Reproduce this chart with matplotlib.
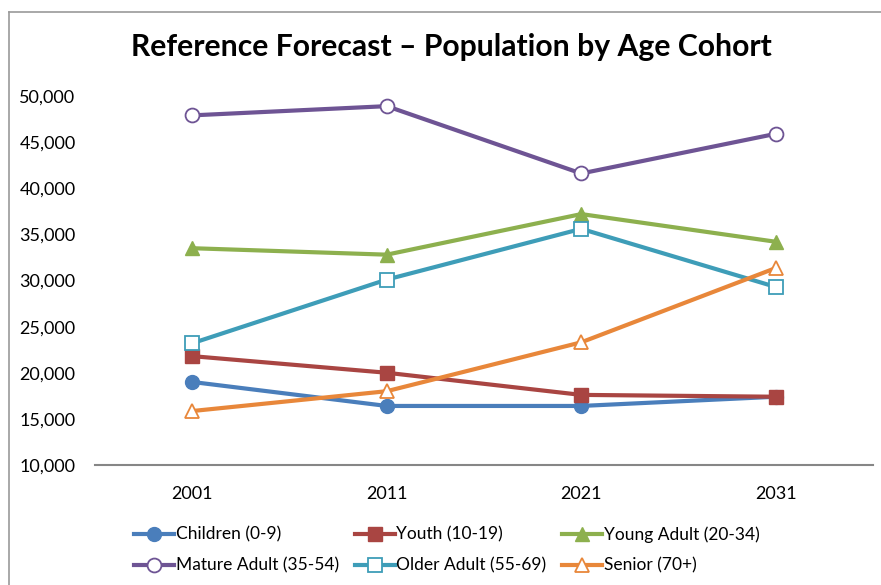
import matplotlib
matplotlib.use("Agg")
import matplotlib.pyplot as plt
from matplotlib.lines import Line2D

years = ["2001", "2011", "2021", "2031"]
children = [19000, 16400, 16400, 17400]
youth = [21800, 20000, 17600, 17400]
young_adult = [33500, 32800, 37200, 34200]
mature_adult = [47900, 48900, 41600, 45900]
older_adult = [23200, 30100, 35600, 29300]
senior = [15850, 18000, 23300, 31350]

series = [
    ("Children (0-9)", children, "#4A7EBB", "o", True),
    ("Youth (10-19)", youth, "#A94542", "s", True),
    ("Young Adult (20-34)", young_adult, "#8DB04E", "^", True),
    ("Mature Adult (35-54)", mature_adult, "#6E5494", "o", False),
    ("Older Adult (55-69)", older_adult, "#3E9DB8", "s", False),
    ("Senior (70+)", senior, "#E8873A", "^", False),
]

plt.rcParams['font.family'] = ['Lato', 'DejaVu Sans']

fig = plt.figure(figsize=(8.81, 5.85), dpi=100)
ax = fig.add_axes([95/881, 120/585, 778/881, 369/585])

x = list(range(len(years)))
handles = []
for name, vals, color, mk, filled in series:
    ms = 10 if mk != "s" else 9.5
    if mk == "^":
        ms = 10.5
    ln, = ax.plot(x, vals, color=color, lw=3, marker=mk, markersize=ms,
                  markerfacecolor=color if filled else "white",
                  markeredgecolor=color, markeredgewidth=1.3 if not filled else 1,
                  label=name, zorder=3)
    handles.append(ln)

ax.set_xlim(-0.5, 3.5)
ax.set_ylim(10000, 50000)
ax.set_yticks(range(10000, 50001, 5000))
ax.set_yticklabels([f"{v:,}" for v in range(10000, 50001, 5000)])
ax.set_xticks(x)
ax.set_xticklabels(years)
for s in ["left", "right", "top"]:
    ax.spines[s].set_visible(False)
ax.spines["bottom"].set_color("#868686")
ax.spines["bottom"].set_linewidth(1.5)
ax.tick_params(axis="both", length=0, labelsize=13, colors="black")
ax.tick_params(axis="y", pad=14)
ax.tick_params(axis="x", pad=15)

fig.text(451/881, 1 - 47/585, "Reference Forecast \u2013 Population by Age Cohort",
         ha="center", va="center", fontsize=21.7, fontweight="bold")

# row-wise legend order for ncol=3 (matplotlib fills column-major)
order = [0, 3, 1, 4, 2, 5]
leg = fig.legend(handles=[handles[i] for i in order], loc="center",
                 bbox_to_anchor=(447/881, 1 - 550/585),
                 ncol=3, frameon=False, fontsize=12.5, handlelength=2.3,
                 handletextpad=0.1, columnspacing=0.9, labelspacing=0.85)

# outer frame (left and top edges)
fig.add_artist(Line2D([9/881, 9/881], [0, 1 - 12/585], transform=fig.transFigure,
                      color="#9a9a9a", lw=1.2))
fig.add_artist(Line2D([9/881, 1], [1 - 12/585, 1 - 12/585], transform=fig.transFigure,
                      color="#9a9a9a", lw=1.2))

fig.savefig("out.png", dpi=100)
